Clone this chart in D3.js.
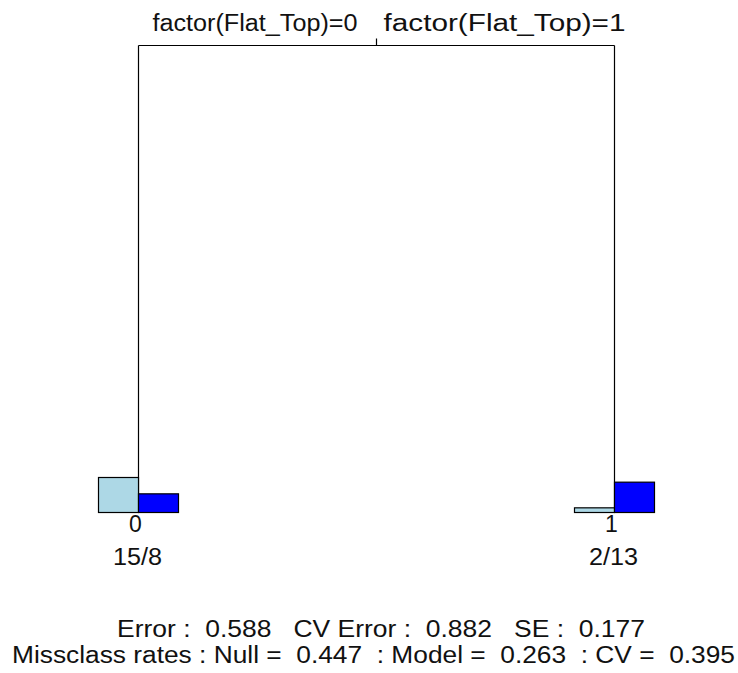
<!DOCTYPE html>
<html>
<head>
<meta charset="utf-8">
<script src="https://cdn.jsdelivr.net/npm/d3@7"></script>
<style>
  html, body { margin: 0; padding: 0; background: #fff; }
  text { font-family: "Liberation Sans", Arial, sans-serif; fill: #111; white-space: pre; }
</style>
</head>
<body>
<svg id="chart" width="738" height="673"></svg>
<script>
// ---- data ----
const splitLabels = ["factor(Flat_Top)=0", "factor(Flat_Top)=1"];
const leafClasses = ["0", "1"];
const class0Counts = [15, 2];
const class1Counts = [8, 13];
const classColors = ["#add8e6", "#0000ff"];
const statsLine1 = "Error :  0.588   CV Error :  0.882   SE :  0.177";
const statsLine2 = "Missclass rates : Null =  0.447  : Model =  0.263  : CV =  0.395";

// ---- layout ----
const svg = d3.select("#chart");
const x = d3.scalePoint().domain(leafClasses).range([138.5, 614.5]);
const depth = d3.scaleLinear().domain([0, 1]).range([45.5, 512.5]);
const barH = d3.scaleLinear().domain([0, 15]).range([0, 35]);
const barW = 40;
const fs = 23;

const leaves = leafClasses.map((c, i) => ({
  cls: c,
  counts: [class0Counts[i], class1Counts[i]],
  label: class0Counts[i] + "/" + class1Counts[i]
}));

const g = svg.append("g");

// root split: horizontal line + centre tick
const rootX = (x(leafClasses[0]) + x(leafClasses[1])) / 2;
g.append("line")
  .attr("x1", x(leafClasses[0])).attr("x2", x(leafClasses[1]))
  .attr("y1", depth(0)).attr("y2", depth(0))
  .attr("stroke", "#000").attr("stroke-width", 1.2);
g.append("line")
  .attr("x1", rootX).attr("x2", rootX)
  .attr("y1", depth(0) - 7).attr("y2", depth(0))
  .attr("stroke", "#000").attr("stroke-width", 1.2);

// vertical branches
g.selectAll("line.branch").data(leaves).enter().append("line")
  .attr("class", "branch")
  .attr("x1", d => x(d.cls)).attr("x2", d => x(d.cls))
  .attr("y1", depth(0)).attr("y2", depth(1))
  .attr("stroke", "#000").attr("stroke-width", 1.2);

// split labels
svg.append("text")
  .attr("x", rootX - 19).attr("y", 31)
  .attr("text-anchor", "end")
  .attr("font-size", fs)
  .attr("textLength", 205).attr("lengthAdjust", "spacingAndGlyphs")
  .text(splitLabels[0]);
svg.append("text")
  .attr("x", rootX + 7).attr("y", 31)
  .attr("text-anchor", "start")
  .attr("font-size", fs)
  .attr("textLength", 242).attr("lengthAdjust", "spacingAndGlyphs")
  .text(splitLabels[1]);

// leaf bars
leaves.forEach(d => {
  const cx = x(d.cls);
  d.counts.forEach((n, k) => {
    const h = barH(n);
    g.append("rect")
      .attr("x", k === 0 ? cx - barW : cx)
      .attr("y", depth(1) - h)
      .attr("width", barW)
      .attr("height", h)
      .attr("fill", classColors[k])
      .attr("stroke", "#000")
      .attr("stroke-width", 1.2);
  });
  svg.append("text")
    .attr("x", cx - 3).attr("y", 532)
    .attr("text-anchor", "middle")
    .attr("font-size", fs)
    .text(d.cls);
  svg.append("text")
    .attr("x", cx - 1).attr("y", 565)
    .attr("text-anchor", "middle")
    .attr("font-size", fs)
    .attr("textLength", 49).attr("lengthAdjust", "spacingAndGlyphs")
    .text(d.label);
});

// stats
svg.append("text")
  .attr("x", 117).attr("y", 637)
  .attr("font-size", fs)
  .attr("textLength", 528).attr("lengthAdjust", "spacingAndGlyphs")
  .text(statsLine1);
svg.append("text")
  .attr("x", 12).attr("y", 663)
  .attr("font-size", fs)
  .attr("textLength", 723).attr("lengthAdjust", "spacingAndGlyphs")
  .text(statsLine2);
</script>
</body>
</html>
